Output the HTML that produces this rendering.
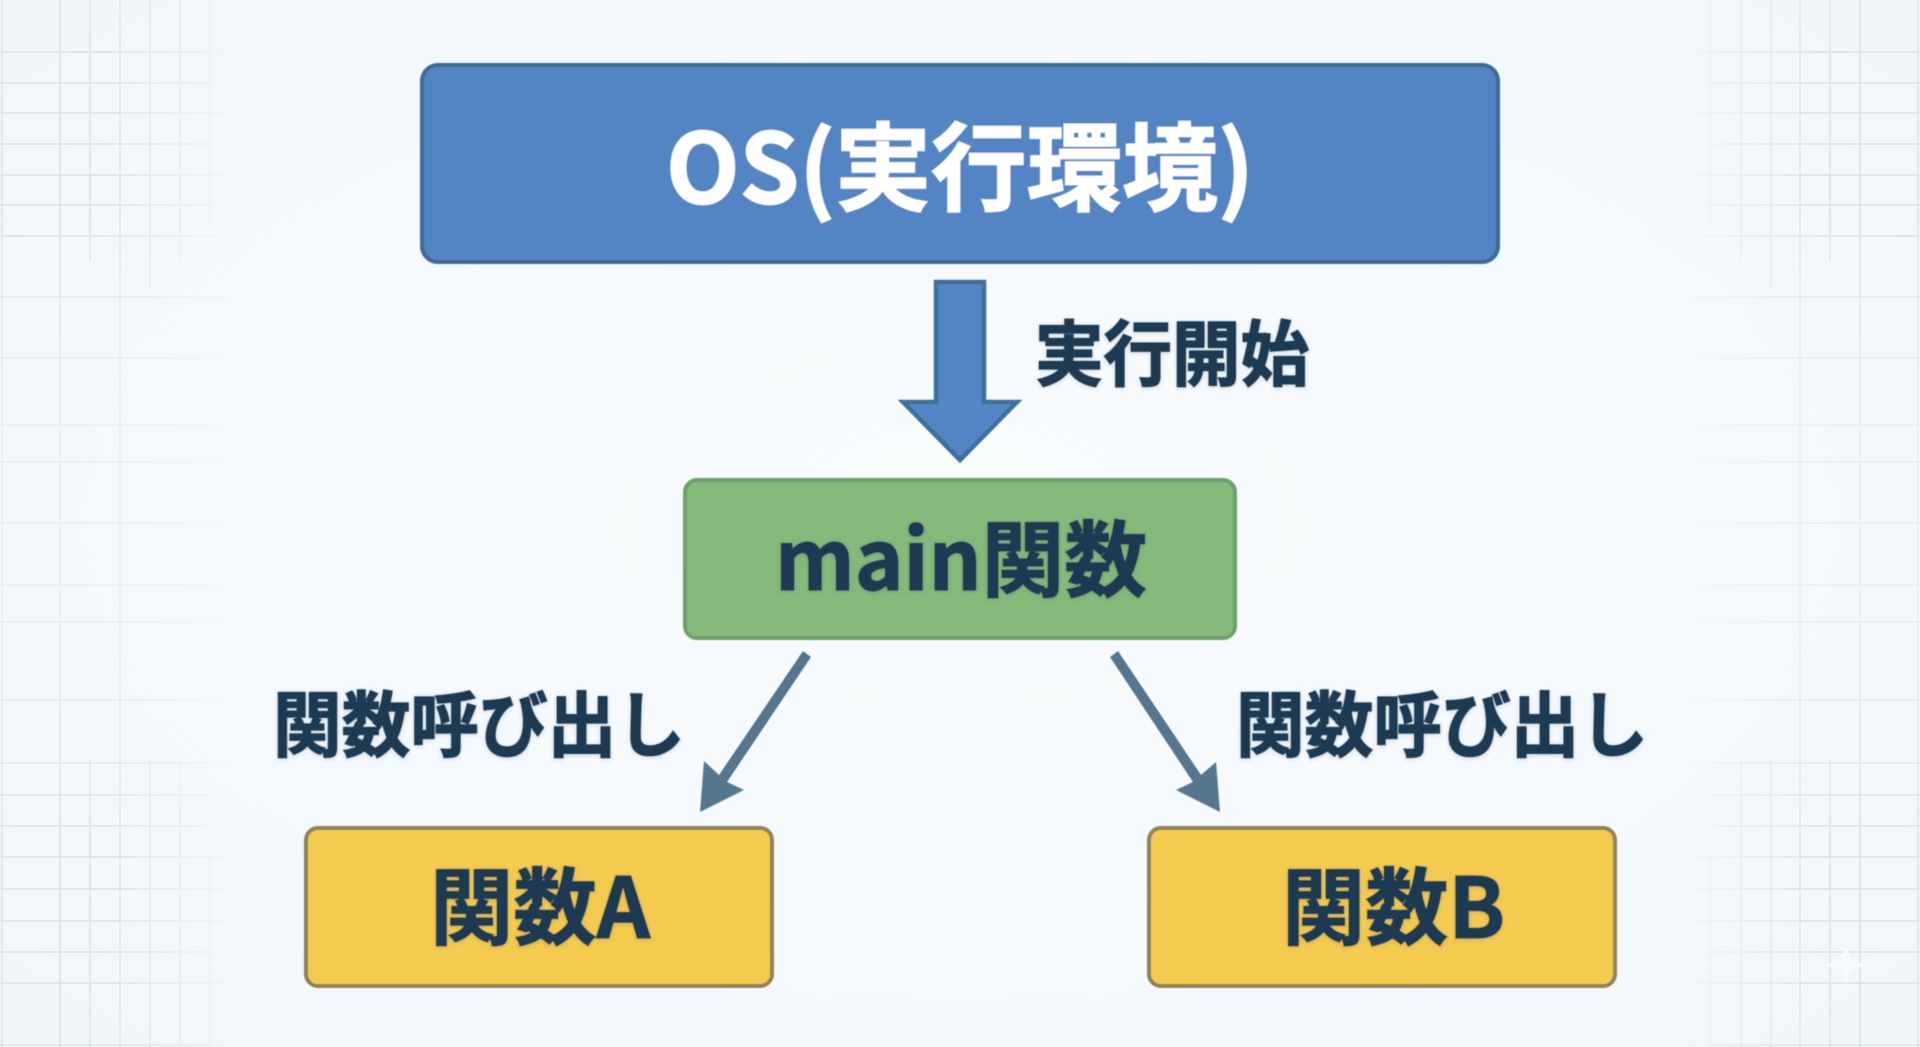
<!DOCTYPE html>
<html lang="ja"><head><meta charset="utf-8"><title>実行の流れ</title>
<style>
html,body{margin:0;padding:0;width:1920px;height:1047px;overflow:hidden;background:#f2f8fb}
svg{display:block}
text{font-family:"Liberation Sans","Noto Sans CJK JP",sans-serif}
.t{font-family:"Noto Sans CJK JP","Liberation Sans",sans-serif;font-weight:700;fill:#1c3a52;stroke:#1c3a52;stroke-width:1.3px;stroke-linejoin:miter;filter:drop-shadow(0 1px 2px rgba(28,58,82,.18))}
.w{fill:#fff;stroke:#fff;stroke-width:1.4px;filter:none}
</style></head><body>
<svg width="1920" height="1047" viewBox="0 0 1920 1047" xmlns="http://www.w3.org/2000/svg">
<defs>
<radialGradient id="bg" cx="50%" cy="50%" r="70%"><stop offset="0" stop-color="#f9fcfd"/><stop offset=".6" stop-color="#f4f9fc"/><stop offset="1" stop-color="#f0f6fa"/></radialGradient>
<linearGradient id="fade"><stop offset="0" stop-color="#fff"/><stop offset=".055" stop-color="#fff"/><stop offset=".125" stop-color="#000"/><stop offset=".875" stop-color="#000"/><stop offset=".945" stop-color="#fff"/><stop offset="1" stop-color="#fff"/></linearGradient>
<linearGradient id="vfade" x1="0" y1="0" x2="0" y2="1"><stop offset="0" stop-color="#fff"/><stop offset=".2" stop-color="#fff"/><stop offset=".38" stop-color="#777"/><stop offset=".62" stop-color="#777"/><stop offset=".8" stop-color="#fff"/><stop offset="1" stop-color="#fff"/></linearGradient>
<mask id="m" maskUnits="userSpaceOnUse" x="0" y="0" width="1920" height="1047"><rect width="1920" height="1047" fill="url(#vfade)"/><rect width="1920" height="1047" fill="url(#fade)" style="mix-blend-mode:multiply"/></mask>
<filter id="soft" x="-5%" y="-5%" width="110%" height="110%"><feGaussianBlur stdDeviation="0.5"/></filter>
</defs>
<rect width="1920" height="1047" fill="url(#bg)"/>
<g mask="url(#m)" stroke="#d9e2e7" stroke-width="1.5" fill="none">
<path d="M2 0V1047M60 0V1047M120 0V1047M90 0V260M90 760V1047M150 0V290M150 760V1047M180 0V260M180 760V1047M210 0V230M210 850V1047"/>
<path d="M1918 0V1047M1860 0V1047M1800 0V1047M1830 0V260M1830 760V1047M1771 0V290M1771 760V1047M1741 0V260M1741 760V1047M1710 0V230M1710 850V1047"/>
<path d="M0 52H300M0 83H300M0 113H300M0 144H300M0 175H300M0 205H300M0 236H300M0 297H300M0 358H300M0 425H300M0 462H300M0 523H300M0 585H300M0 622H300M0 700H300M0 763H300M0 795H300M0 826H300M0 857H300M0 889H300M0 921H300M0 952H300M0 983H300M0 1045H300"/>
<path d="M1620 52H1920M1620 83H1920M1620 113H1920M1620 144H1920M1620 175H1920M1620 205H1920M1620 236H1920M1620 297H1920M1620 358H1920M1620 425H1920M1620 462H1920M1620 523H1920M1620 585H1920M1620 622H1920M1620 700H1920M1620 763H1920M1620 795H1920M1620 826H1920M1620 857H1920M1620 889H1920M1620 921H1920M1620 952H1920M1620 983H1920M1620 1045H1920"/>
</g>
<path d="M1846 945L1851 960L1866 965L1851 970L1846 985L1841 970L1826 965L1841 960Z" fill="#f7fbfc" filter="url(#soft)"/>

<g filter="url(#soft)">
<rect x="422" y="65" width="1076" height="197" rx="16" fill="#5285c4" stroke="#3e6b99" stroke-width="4"/>
<path d="M936 282H984V402H1017L960 460L903 402H936Z" fill="#5286c4" stroke="#3f7099" stroke-width="4.5"/>
<rect x="685" y="480" width="550" height="158" rx="12" fill="#84ba7a" stroke="#6f9f6c" stroke-width="4"/>
<path d="M803 651L719 775L704 761L700 812L744 790L727 782L811 657Z" fill="#55768f"/>
<path d="M1118 651L1201 775L1216 762L1220 812L1176 790L1193 782L1110 657Z" fill="#55768f"/>
<rect x="306" y="828" width="466" height="158" rx="12" fill="#f5cb4f" stroke="#8f8458" stroke-width="4"/>
<rect x="1149" y="828" width="466" height="158" rx="12" fill="#f5cb4f" stroke="#8f8458" stroke-width="4"/>

<g transform="translate(666,203) scale(1,1.02)"><text class="t w" x="0" y="0" font-size="94" textLength="588" lengthAdjust="spacingAndGlyphs">OS(実行環境)</text></g>
<g transform="translate(1035,380) scale(1,1.05)"><text class="t" x="0" y="0" font-size="68" textLength="274" lengthAdjust="spacingAndGlyphs">実行開始</text></g>
<g transform="translate(775,590) scale(1,1.04)"><text class="t" x="0" y="0" font-size="80" textLength="372" lengthAdjust="spacingAndGlyphs">main関数</text></g>
<g transform="translate(273,751) scale(1,1.05)"><text class="t" x="0" y="0" font-size="68" textLength="412" lengthAdjust="spacingAndGlyphs">関数呼び出し</text></g>
<g transform="translate(1236,751) scale(1,1.05)"><text class="t" x="0" y="0" font-size="68" textLength="412" lengthAdjust="spacingAndGlyphs">関数呼び出し</text></g>
<g transform="translate(430,938) scale(1,1.05)"><text class="t" x="0" y="0" font-size="80" textLength="220" lengthAdjust="spacingAndGlyphs">関数A</text></g>
<g transform="translate(1282,938) scale(1,1.05)"><text class="t" x="0" y="0" font-size="80" textLength="223" lengthAdjust="spacingAndGlyphs">関数B</text></g>
</g>
</svg>
</body></html>
